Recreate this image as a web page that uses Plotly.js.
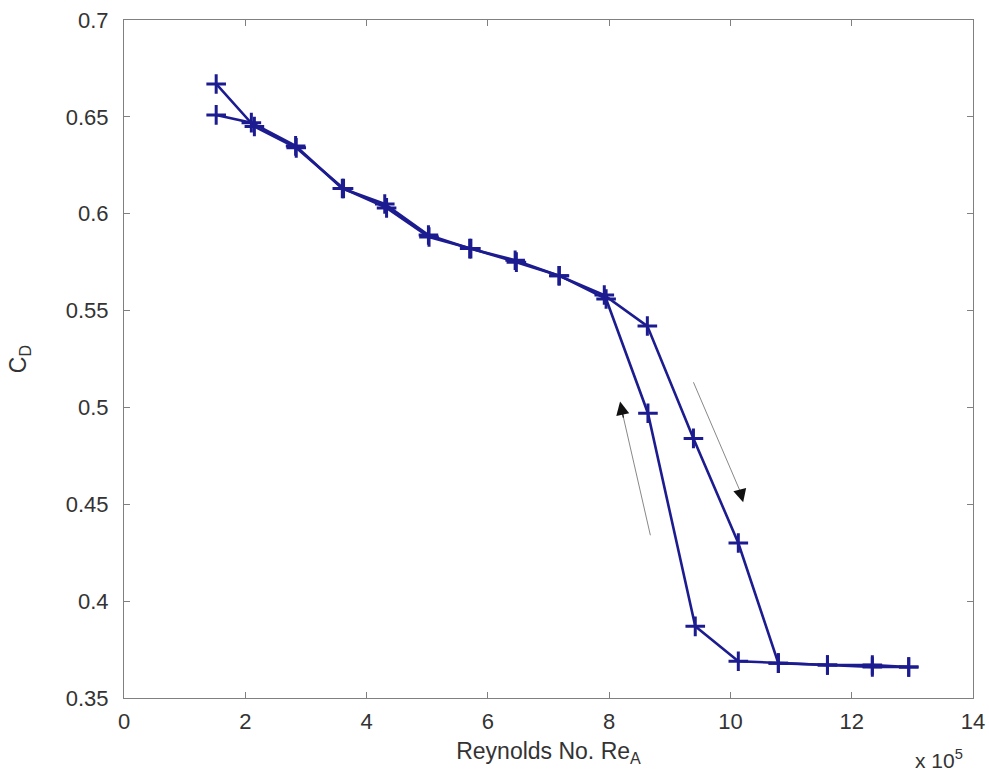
<!DOCTYPE html>
<html><head><meta charset="utf-8">
<script src="https://cdn.plot.ly/plotly-3.0.1.min.js"></script>
<style>html,body{margin:0;padding:0;background:#fff}#plot{width:989px;height:775px}</style>
</head><body><div id="plot"></div>
<script>
// Increasing Reynolds number (right branch, down arrow)
const incRe = [1.52, 2.10, 2.83, 3.60, 4.30, 5.02, 5.70, 6.45, 7.17, 7.92, 8.63, 9.39, 10.13, 10.79, 11.60, 12.34, 12.94];
const incCd = [0.651, 0.647, 0.635, 0.613, 0.605, 0.589, 0.582, 0.576, 0.568, 0.558, 0.542, 0.484, 0.430, 0.368, 0.367, 0.367, 0.366];
// Decreasing Reynolds number (left branch, up arrow)
const decRe = [12.94, 12.34, 11.60, 10.79, 10.13, 9.42, 8.64, 7.95, 7.18, 6.47, 5.72, 5.03, 4.33, 3.62, 2.84, 2.15, 1.52];
const decCd = [0.366, 0.366, 0.367, 0.368, 0.369, 0.387, 0.497, 0.556, 0.568, 0.575, 0.582, 0.588, 0.603, 0.613, 0.634, 0.645, 0.667];
const xTicks = [0, 2, 4, 6, 8, 10, 12, 14];
const yTicks = [0.35, 0.4, 0.45, 0.5, 0.55, 0.6, 0.65, 0.7];

const FONT = 'Liberation Sans, Arial, sans-serif';
const lineColor = '#1c1c90';
const mk = {symbol: 'cross-thin-open', size: 14, line: {width: 3, color: lineColor}, color: lineColor};
const traces = [
  {x: incRe, y: incCd, mode: 'lines+markers', line: {color: lineColor, width: 2.6}, marker: mk, showlegend: false},
  {x: decRe, y: decCd, mode: 'lines+markers', line: {color: lineColor, width: 2.6}, marker: mk, showlegend: false}
];
const axisCommon = {
  showgrid: false, zeroline: false, showline: true, linecolor: '#808080', linewidth: 1,
  mirror: 'ticks', ticks: 'inside', ticklen: 6, tickcolor: '#808080',
  tickfont: {family: FONT, size: 22, color: '#333'}
};
const layout = {
  width: 989, height: 775,
  margin: {l: 124, r: 16, t: 20, b: 77},
  paper_bgcolor: '#fff', plot_bgcolor: '#fff',
  xaxis: Object.assign({}, axisCommon, {range: [0, 14], tickvals: xTicks, ticktext: xTicks.map(String), ticklabelstandoff: 4,
    title: {text: 'Reynolds No. Re<sub>A</sub>', font: {family: FONT, size: 23, color: '#333'}, standoff: 9}}),
  yaxis: Object.assign({}, axisCommon, {range: [0.35, 0.7], tickvals: yTicks, ticktext: yTicks.map(v => String(v)), ticklabelstandoff: 10,
    title: {text: 'C<sub>D</sub>', font: {family: FONT, size: 23, color: '#333'}, standoff: 32}}),
  shapes: [
    {type: 'line', xref: 'x', yref: 'y', x0: 8.68, y0: 0.434, x1: 8.22, y1: 0.497, line: {color: '#888', width: 1}},
    {type: 'line', xref: 'x', yref: 'y', x0: 9.39, y0: 0.513, x1: 10.17, y1: 0.456, line: {color: '#888', width: 1}}
  ],
  annotations: [
    {x: 8.18, y: 0.503, ax: 8.24, ay: 0.494, xref: 'x', yref: 'y', axref: 'x', ayref: 'y', showarrow: true, arrowhead: 2, arrowsize: 2.2, arrowwidth: 1.2, arrowcolor: '#111', text: ''},
    {x: 10.21, y: 0.451, ax: 10.15, ay: 0.458, xref: 'x', yref: 'y', axref: 'x', ayref: 'y', showarrow: true, arrowhead: 2, arrowsize: 2.2, arrowwidth: 1.2, arrowcolor: '#111', text: ''},
    {xref: 'paper', yref: 'paper', x: 0.99, y: -0.068, xanchor: 'right', yanchor: 'top', showarrow: false,
     text: 'x 10<sup>5</sup>', font: {family: FONT, size: 21, color: '#333'}}
  ]
};
Plotly.newPlot('plot', traces, layout, {displayModeBar: false, staticPlot: true});
</script></body></html>
